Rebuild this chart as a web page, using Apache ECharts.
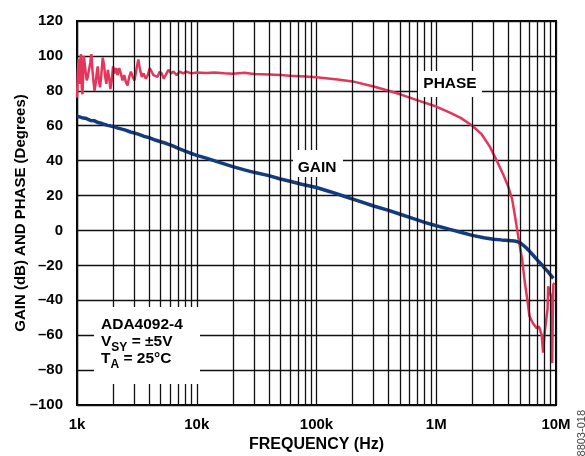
<!DOCTYPE html>
<html>
<head>
<meta charset="utf-8">
<script src="https://cdn.jsdelivr.net/npm/echarts@6/dist/echarts.min.js"></script>
<style>
  html, body { margin: 0; padding: 0; background: #fff; }
  #chart { width: 585px; height: 456px; }
</style>
</head>
<body>
<div id="chart"></div>
<script>
// gain curve (Hz, dB)
let gainFreq = [1000, 1100, 1200, 1300, 1400, 1500, 1600, 1800, 2000, 2200, 2500, 2800, 3200, 3600, 4000, 4500, 5000, 5600, 6300, 7100, 8000, 9000,
  10000, 12000, 15000, 20000, 25000, 30000, 40000, 50000, 60000, 75000, 100000, 130000, 170000, 220000, 300000, 400000, 500000, 600000, 800000,
  1000000, 1300000, 1600000, 2000000, 2500000, 3000000, 3500000, 4000000, 4500000, 5000000, 5500000, 6000000, 6500000, 7000000, 7500000,
  8000000, 8500000, 9000000, 9500000];
let gainDb = [65.5, 64.6, 64.1, 63.0, 62.8, 61.8, 61.4, 60.2, 59.6, 58.6, 57.6, 56.4, 55.3, 54.0, 53.2, 51.8, 50.8, 49.8, 48.4, 46.9, 45.5, 44.1,
  43.0, 41.4, 39.3, 36.6, 34.7, 33.3, 31.4, 29.5, 28.2, 26.5, 24.6, 22.2, 19.6, 17.1, 14.0, 11.5, 9.3, 7.5, 4.6,
  2.7, 0.6, -1.0, -2.8, -4.2, -5.0, -5.4, -5.7, -6.0, -7.0, -9.2, -11.8, -14.5, -17.0, -19.2,
  -21.5, -23.3, -25.5, -27.5];

// phase curve (Hz, degrees)
let phaseFreq = [1000, 1015, 1030, 1045, 1060, 1080, 1095, 1110, 1125, 1140, 1165, 1185, 1205, 1230, 1260, 1290, 1320, 1345, 1370, 1400,
  1430, 1460, 1490, 1520, 1560, 1600, 1640, 1680, 1720, 1760, 1810, 1860, 1900, 1950, 2000, 2060, 2120, 2180, 2250, 2320,
  2400, 2480, 2560, 2640, 2730, 2820, 2920, 3020, 3130, 3250, 3360, 3480, 3600, 3750, 3900, 4050, 4200, 4350, 4500, 4700,
  4900, 5100, 5300, 5500, 5800, 6100, 6400, 6800, 7200, 7700, 8200, 9000, 10000, 12000, 14000, 17000, 20000, 25000, 30000, 40000,
  50000, 60000, 80000, 100000, 150000, 200000, 300000, 400000, 500000, 700000, 1000000, 1300000, 1600000, 2000000, 2400000, 2800000,
  3200000, 3600000, 4000000, 4300000, 4600000, 4900000, 5200000, 5500000, 5800000, 6000000, 6400000, 6900000, 7200000, 7400000,
  7600000, 7800000, 8000000, 8300000, 8500000, 8600000, 8850000, 9100000, 9250000, 9300000, 9400000, 9500000, 9700000];
let phaseDeg = [76, 90, 98, 84, 96, 101, 82, 78, 88, 100, 101, 90, 86, 88, 87, 96, 101, 92, 86, 80,
  84, 90, 94, 86, 82, 90, 99, 95, 88, 84, 92, 87, 81, 86, 94, 90, 93, 89, 93, 90,
  86, 89, 85, 83, 88, 91, 88, 86, 92, 98, 92, 88, 90, 87, 89, 93, 94, 89, 90, 88,
  91, 90, 87, 89, 92, 90, 91, 89, 91, 90, 91, 90, 90.5, 90.2, 90.5, 90, 89.8, 90.3, 89.6, 89.4,
  89, 88.6, 88.2, 87.8, 86.5, 85.4, 82.5, 80, 78, 74.5, 71, 67.5, 64.5, 60, 55, 48,
  40, 32.5, 25, 18, 6, -6, -16, -30, -41, -49, -53, -56, -55, -54,
  -60, -70, -60, -61, -45, -32, -31, -38, -65, -76, -50, -31, -30];

let xTickLabels = { 1000: '1k', 10000: '10k', 100000: '100k', 1000000: '1M', 10000000: '10M' };

// log grid lines at 2..9 of each decade
let minorFreqs = [];
for (let d = 1000; d < 10000000; d *= 10) {
  for (let k = 2; k <= 9; k++) minorFreqs.push(k * d);
}

let pairs = (xs, ys) => xs.map((x, i) => [x, ys[i]]);
let font = '"Liberation Sans", Arial, sans-serif';
let gridColor = '#111';

let option = {
  animation: false,
  backgroundColor: '#fff',
  grid: {
    left: 77, right: 29, top: 21, bottom: 51,
    outerBoundsMode: 'none',
    show: true, borderColor: '#000', borderWidth: 2
  },
  xAxis: {
    type: 'log',
    logBase: 10,
    min: 1000,
    max: 10000000,
    name: 'FREQUENCY (Hz)',
    nameLocation: 'middle',
    nameGap: 32,
    nameMoveOverlap: false,
    nameTextStyle: { fontFamily: font, fontWeight: 'bold', fontSize: 16, color: '#000' },
    axisLine: { show: false },
    axisTick: { show: false },
    axisLabel: {
      margin: 12,
      fontFamily: font, fontWeight: 'bold', fontSize: 15, color: '#000',
      formatter: v => xTickLabels[Math.round(v)] || ''
    },
    splitLine: { show: true, lineStyle: { color: gridColor, width: 1.3 } }
  },
  yAxis: {
    type: 'value',
    min: -100,
    max: 120,
    interval: 20,
    name: 'GAIN (dB) AND PHASE (Degrees)',
    nameLocation: 'middle',
    nameGap: 49,
    nameMoveOverlap: false,
    nameTextStyle: { fontFamily: font, fontWeight: 'bold', fontSize: 15, color: '#000' },
    axisLine: { show: false },
    axisTick: { show: false },
    axisLabel: {
      margin: 14,
      fontFamily: font, fontWeight: 'bold', fontSize: 15, color: '#000',
      formatter: v => v < 0 ? '\u2013' + Math.abs(v) : String(v)
    },
    splitLine: { show: true, lineStyle: { color: gridColor, width: 1.3 } }
  },
  series: [
    {
      name: 'grid',
      type: 'line',
      data: [],
      z: 1,
      silent: true,
      markLine: {
        silent: true,
        symbol: ['none', 'none'],
        label: { show: false },
        lineStyle: { color: gridColor, width: 1.3, type: 'solid' },
        emphasis: { disabled: true },
        data: minorFreqs.map(f => ({ xAxis: f }))
      }
    },
    {
      name: 'PHASE',
      type: 'line',
      data: pairs(phaseFreq, phaseDeg),
      showSymbol: false,
      z: 3,
      lineStyle: { color: '#e3365a', width: 2.5 }
    },
    {
      name: 'GAIN',
      type: 'line',
      data: pairs(gainFreq, gainDb),
      showSymbol: false,
      z: 4,
      lineStyle: { color: '#123b80', width: 3.5 }
    }
  ],
  graphic: [
    { type: 'rect', z: 100, shape: { x: 418, y: 71, width: 64, height: 26 }, style: { fill: '#fff' } },
    { type: 'text', z: 101, x: 450, y: 84, style: { text: 'PHASE', font: 'bold 15.5px ' + font, fill: '#000', align: 'center', verticalAlign: 'middle' } },
    { type: 'rect', z: 100, shape: { x: 293, y: 150, width: 50, height: 27 }, style: { fill: '#fff' } },
    { type: 'text', z: 101, x: 317, y: 168, style: { text: 'GAIN', font: 'bold 15.5px ' + font, fill: '#000', align: 'center', verticalAlign: 'middle' } },
    { type: 'rect', z: 100, shape: { x: 94, y: 307, width: 106, height: 77 }, style: { fill: '#fff' } },
    {
      type: 'text', z: 101, x: 101, y: 320,
      style: {
        text: '{b|ADA4092-4}\n{b|V}{s|SY}{b| = \u00b15V}\n{b|T}{s|A}{b| = 25\u00b0C}',
        fill: '#000',
        rich: {
          b: { fontFamily: font, fontWeight: 'bold', fontSize: 15.5, lineHeight: 17, padding: [0, 0, 4, 0], verticalAlign: 'bottom' },
          s: { fontFamily: font, fontWeight: 'bold', fontSize: 12, lineHeight: 13, verticalAlign: 'bottom' }
        }
      }
    },
    {
      type: 'text', z: 101, x: 582, y: 410, rotation: Math.PI / 2,
      style: { text: '08803-018', font: '11px ' + font, fill: '#444', align: 'right', verticalAlign: 'middle' }
    }
  ]
};

let chart = echarts.init(document.getElementById('chart'));
chart.setOption(option);
</script>
</body>
</html>
